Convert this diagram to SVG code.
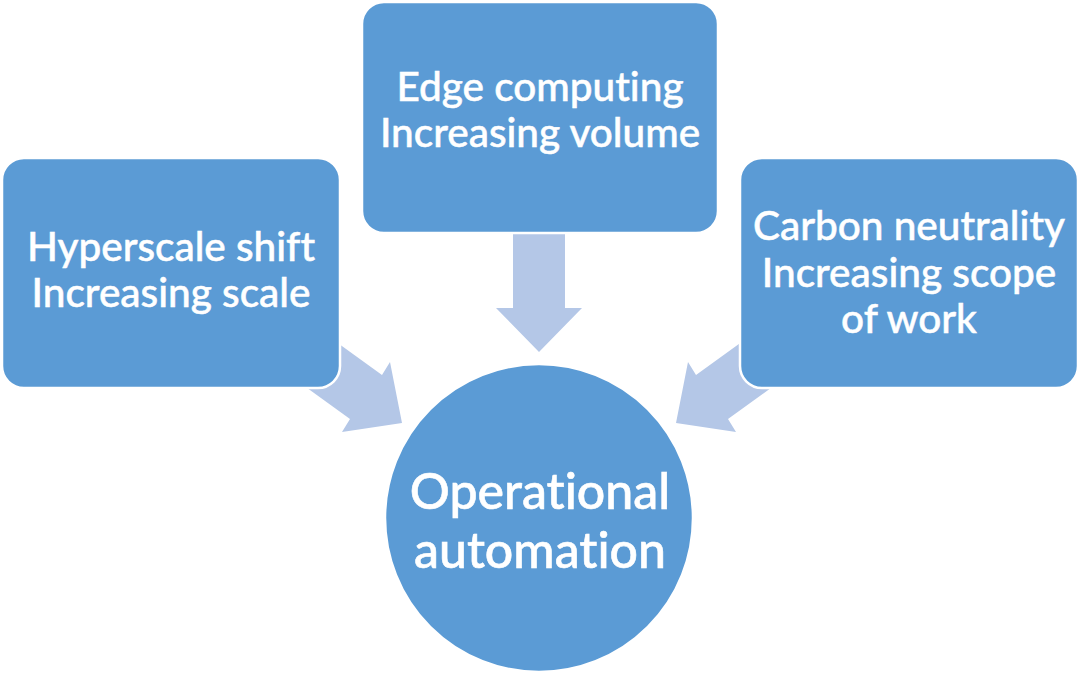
<svg xmlns="http://www.w3.org/2000/svg" width="1080" height="674" viewBox="0 0 1080 674">
<style>
.node{fill:#5B9BD5;stroke:#FFFFFF;stroke-width:2.5}
.arrow{fill:#B4C7E7;stroke:none}
.t{font-family:Lato,"Open Sans","Noto Sans",sans-serif;font-weight:500;font-variant-ligatures:none;fill:#FFFFFF;stroke:#FFFFFF;stroke-width:0.5;text-anchor:middle;font-size:40.5px}
.big{font-size:50px;stroke-width:0.6}
</style>
<rect width="1080" height="674" fill="#FFFFFF"/>
<g id="connectors">
<polygon class="arrow" points="317,328 382,375 390,362 402,423 342,432 350,419 285,372"/>
<polygon class="arrow" points="761,328 696,375 688,362 676,423 736,432 728,419 793,372"/>
<polygon class="arrow" points="513,225 565,225 565,308 582,308 539,352 496,308 513,308"/>
</g>
<g id="node-hyperscale">
<rect class="node" x="2" y="158" width="338" height="230" rx="22" ry="22"/>
<text class="t" x="171" y="261">Hyperscale shift</text>
<text class="t" x="171" y="307">Increasing scale</text>
</g>
<g id="node-edge">
<rect class="node" x="362" y="2" width="356" height="231" rx="22" ry="22"/>
<text class="t" x="540" y="101">Edge computing</text>
<text class="t" x="540" y="147">Increasing volume</text>
</g>
<g id="node-carbon">
<rect class="node" x="740" y="158" width="338" height="230" rx="22" ry="22"/>
<text class="t" x="909" y="240">Carbon neutrality</text>
<text class="t" x="909" y="287">Increasing scope</text>
<text class="t" x="909" y="333">of work</text>
</g>
<g id="node-automation">
<circle class="node" cx="539" cy="518" r="154"/>
<text class="t big" x="540" y="509">Operational</text>
<text class="t big" x="540" y="568">automation</text>
</g>
</svg>
